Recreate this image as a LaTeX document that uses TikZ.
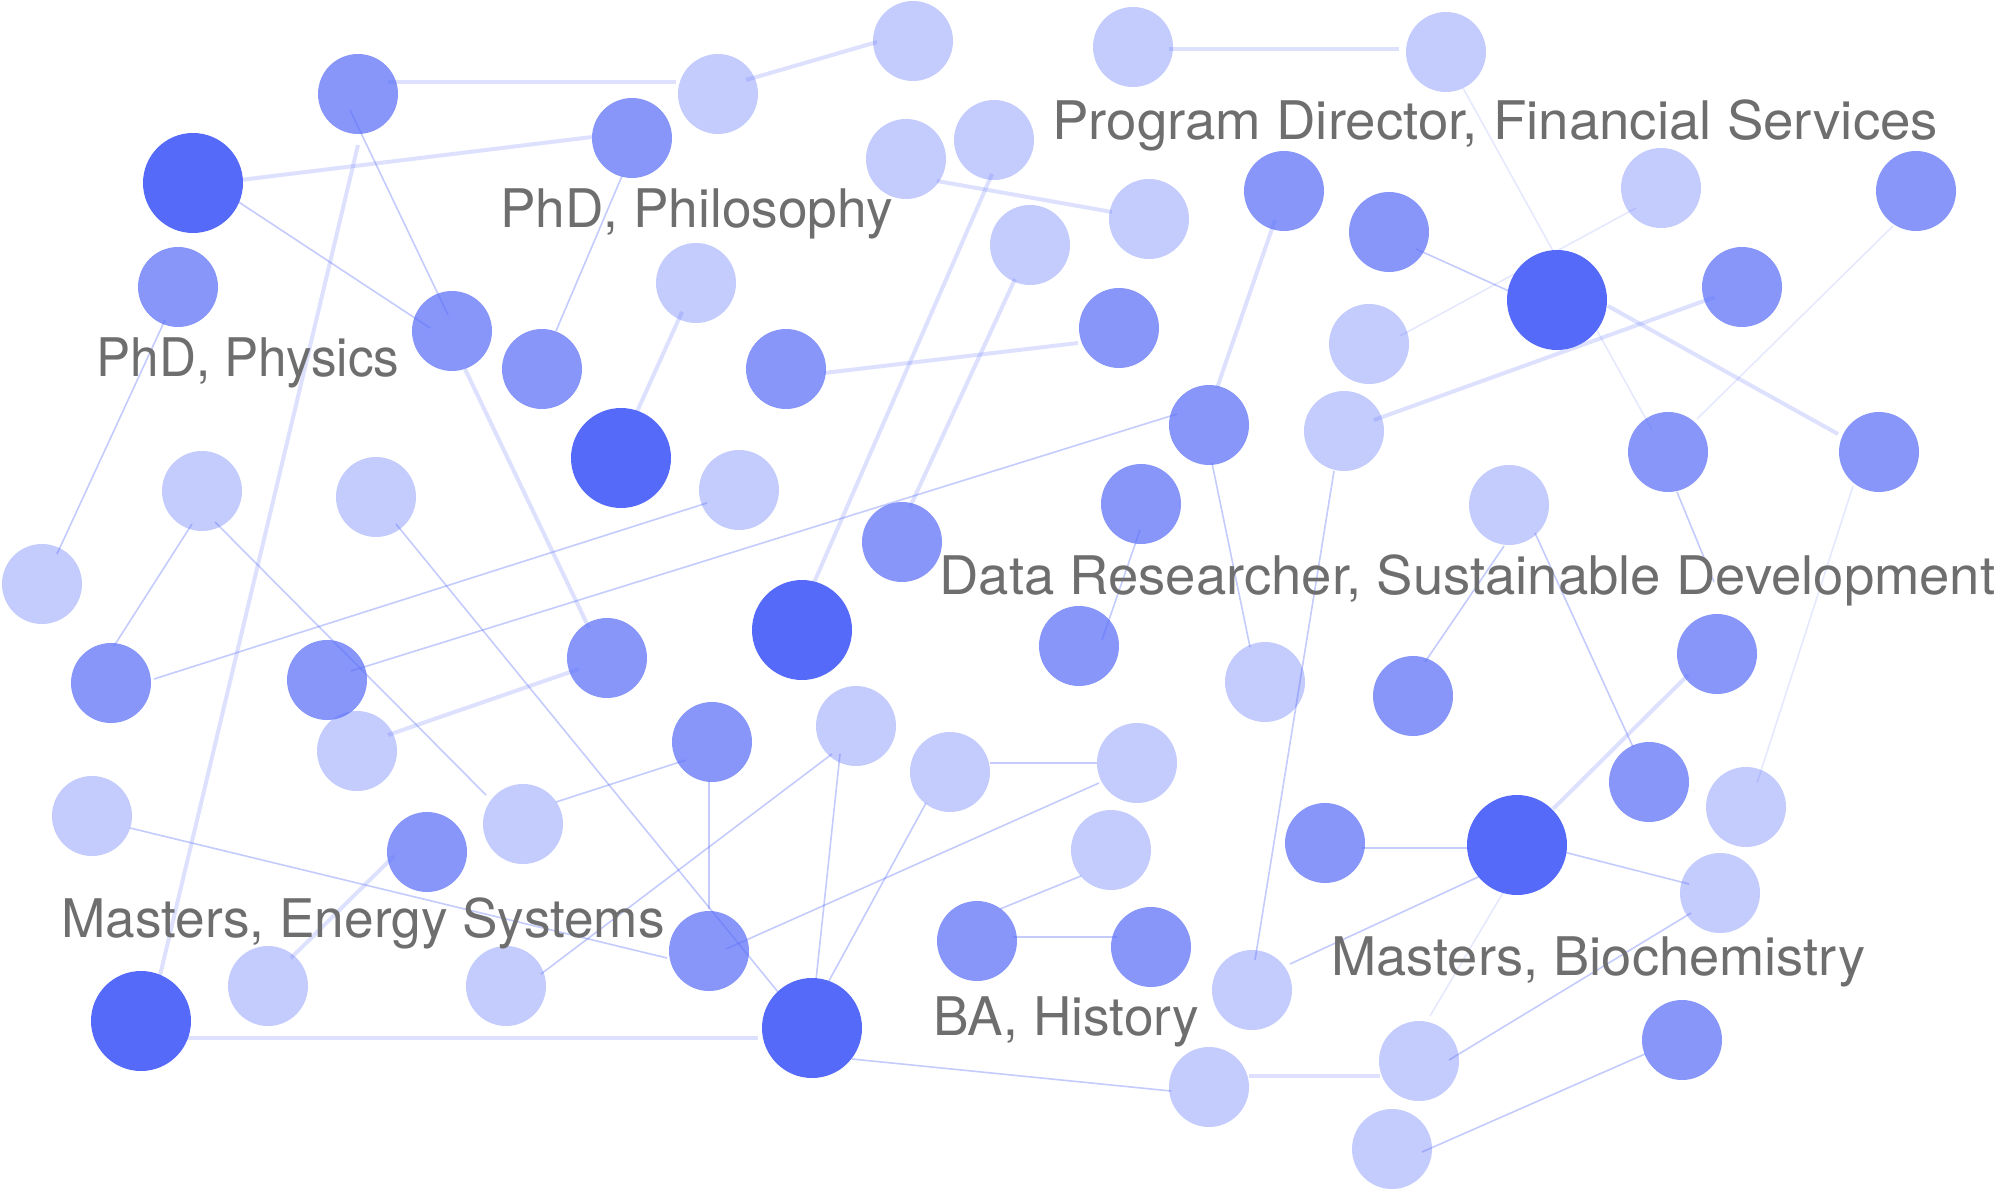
\documentclass[tikz,border=0pt]{standalone}
\usepackage{fontspec}
\setmainfont{TeX Gyre Heros}
\usetikzlibrary{calc}
\definecolor{nodeblue}{RGB}{85,106,248}
\definecolor{labelgray}{RGB}{110,110,110}
\begin{document}
\begin{tikzpicture}[x=0.5pt,y=-0.5pt,
  dot/.style={circle,draw=none,inner sep=0pt,fill=nodeblue},
  big/.style={dot,minimum size=50pt,fill opacity=1},
  mid/.style={dot,minimum size=40pt,fill opacity=0.7},
  pale/.style={dot,minimum size=40pt,fill opacity=0.35},
  thk/.style={draw=nodeblue,draw opacity=0.2,line width=2pt},
  thn/.style={draw=nodeblue,draw opacity=0.35,line width=0.8pt},
  fnt/.style={draw=nodeblue,draw opacity=0.15,line width=0.8pt},
  lbl/.style={anchor=base west,inner sep=0pt,text=labelgray,font=\fontsize{26.6pt}{30pt}\selectfont}]
\useasboundingbox (0,0) rectangle (2012,1192);
% dark nodes
\node[big] (d1) at (193,183) {};
\node[big] (d2) at (621,458) {};
\node[big] (d3) at (802,630) {};
\node[big] (d4) at (1557,300) {};
\node[big] (d5) at (1517,845) {};
\node[big] (d6) at (141,1021) {};
\node[big] (d7) at (812,1028) {};
% medium nodes
\node[mid] (m1) at (358,94) {};
\node[mid] (m2) at (632,138) {};
\node[mid] (m3) at (178,287) {};
\node[mid] (m4) at (452,331) {};
\node[mid] (m5) at (542,369) {};
\node[mid] (m6) at (786,369) {};
\node[mid] (m7) at (1119,328) {};
\node[mid] (m8) at (1284,191) {};
\node[mid] (m9) at (1209,425) {};
\node[mid] (m10) at (1141,504) {};
\node[mid] (m11) at (902,542) {};
\node[mid] (m12) at (111,683) {};
\node[mid] (m13) at (327,680) {};
\node[mid] (m14) at (607,658) {};
\node[mid] (m15) at (427,852) {};
\node[mid] (m16) at (712,742) {};
\node[mid] (m17) at (709,951) {};
\node[mid] (m18) at (1079,646) {};
\node[mid] (m19) at (977,941) {};
\node[mid] (m20) at (1151,947) {};
\node[mid] (m21) at (1389,232) {};
\node[mid] (m22) at (1742,287) {};
\node[mid] (m23) at (1916,191) {};
\node[mid] (m24) at (1668,452) {};
\node[mid] (m25) at (1879,452) {};
\node[mid] (m26) at (1413,696) {};
\node[mid] (m27) at (1717,654) {};
\node[mid] (m28) at (1649,782) {};
\node[mid] (m29) at (1325,843) {};
\node[mid] (m30) at (1682,1040) {};
% light nodes
\node[pale] (l1) at (718,94) {};
\node[pale] (l2) at (913,41) {};
\node[pale] (l3) at (1133,47) {};
\node[pale] (l4) at (906,159) {};
\node[pale] (l5) at (994,140) {};
\node[pale] (l6) at (1149,219) {};
\node[pale] (l7) at (1030,245) {};
\node[pale] (l8) at (696,283) {};
\node[pale] (l9) at (202,491) {};
\node[pale] (l10) at (376,497) {};
\node[pale] (l11) at (739,490) {};
\node[pale] (l12) at (42,584) {};
\node[pale] (l13) at (357,751) {};
\node[pale] (l14) at (92,816) {};
\node[pale] (l15) at (523,824) {};
\node[pale] (l16) at (268,986) {};
\node[pale] (l17) at (506,986) {};
\node[pale] (l18) at (856,726) {};
\node[pale] (l19) at (950,772) {};
\node[pale] (l20) at (1137,763) {};
\node[pale] (l21) at (1111,850) {};
\node[pale] (l22) at (1265,682) {};
\node[pale] (l23) at (1252,990) {};
\node[pale] (l24) at (1209,1087) {};
\node[pale] (l25) at (1446,52) {};
\node[pale] (l26) at (1661,188) {};
\node[pale] (l27) at (1369,344) {};
\node[pale] (l28) at (1344,431) {};
\node[pale] (l29) at (1509,505) {};
\node[pale] (l30) at (1746,807) {};
\node[pale] (l31) at (1720,893) {};
\node[pale] (l32) at (1419,1061) {};
\node[pale] (l33) at (1392,1149) {};
\coordinate (free1) at (1714,582);
% connectors
\draw[thk] ($(m1)+(30,-12)$) -- ($(l1)+(-42,-12)$);
\draw[thk] ($(d1)+(39,-2)$) -- ($(m2)+(-40,-1)$);
\draw[thn] ($(d1)+(32,10)$) -- ($(m4)+(-22,-3)$);
\draw[thn] ($(m1)+(-8,16)$) -- ($(m4)+(-4,-16)$);
\draw[thk] ($(m1)+(0,51)$) -- ($(d6)+(16,-33)$);
\draw[thn] ($(m3)+(-13,33)$) -- ($(l12)+(15,-30)$);
\draw[thk] ($(m4)+(13,38)$) -- ($(m14)+(-18,-30)$);
\draw[thn] ($(m5)+(14,-38)$) -- ($(m2)+(-10,38)$);
\draw[thk] ($(d2)+(10,-33)$) -- ($(l8)+(-14,29)$);
\draw[thn] ($(l9)+(-10,33)$) -- ($(m12)+(3,-37)$);
\draw[thn] ($(l9)+(13,31)$) -- ($(l15)+(-37,-29)$);
\draw[thn] ($(l10)+(20,27)$) -- ($(d7)+(-25,-25)$);
\draw[thn] ($(m12)+(43,-4)$) -- ($(l11)+(-32,13)$);
\draw[thn] ($(m13)+(24,-9)$) -- ($(m9)+(-32,-11)$);
\draw[thk] ($(l13)+(31,-16)$) -- ($(m14)+(-28,11)$);
\draw[thn] ($(l14)+(38,12)$) -- ($(m17)+(-42,7)$);
\draw[thk] ($(l16)+(23,-28)$) -- ($(m15)+(-33,4)$);
\draw[thn] ($(l15)+(33,-22)$) -- ($(m16)+(-26,18)$);
\draw[thn] ($(l17)+(35,-12)$) -- ($(l18)+(-24,28)$);
\draw[thk] ($(d6)+(6,17)$) -- ($(d7)+(-54,10)$);
\draw[thn] ($(m16)+(-3,39)$) -- ($(m17)+(0,-42)$);
\draw[thn] ($(l18)+(-16,28)$) -- ($(d7)+(4,-48)$);
\draw[thn] ($(l19)+(-24,31)$) -- ($(d7)+(0,-16)$);
\draw[thn] ($(l19)+(40,-9)$) -- ($(l20)+(-40,0)$);
\draw[thn] ($(l20)+(-38,20)$) -- ($(m17)+(17,-2)$);
\draw[thn] ($(m19)+(23,-32)$) -- ($(l21)+(-30,26)$);
\draw[thn] ($(m19)+(36,-4)$) -- ($(m20)+(-34,-10)$);
\draw[thn] ($(d7)+(40,31)$) -- ($(l24)+(-38,4)$);
\draw[thk] ($(l24)+(40,-11)$) -- ($(l32)+(-39,15)$);
\draw[thn] ($(l28)+(-10,40)$) -- ($(l23)+(3,-30)$);
\draw[thn] ($(l23)+(38,-26)$) -- ($(d5)+(-28,27)$);
\draw[thn] ($(m9)+(3,38)$) -- ($(l22)+(-15,-35)$);
\draw[thk] ($(m9)+(8,-37)$) -- ($(m8)+(-9,29)$);
\draw[thn] ($(m10)+(-1,26)$) -- ($(m18)+(23,-6)$);
\draw[thk] ($(l4)+(31,22)$) -- ($(l6)+(-37,-7)$);
\draw[thk] ($(l5)+(-2,34)$) -- ($(d3)+(11,-45)$);
\draw[thk] ($(l7)+(-15,34)$) -- ($(m11)+(8,-35)$);
\draw[thk] ($(m6)+(38,4)$) -- ($(m7)+(-41,15)$);
\draw[thk] ($(l1)+(28,-14)$) -- ($(l2)+(-36,1)$);
\draw[thk] ($(l3)+(36,2)$) -- ($(l25)+(-47,-3)$);
\draw[fnt] ($(l25)+(17,36)$) -- ($(m24)+(-16,-22)$);
\draw[thn] ($(m21)+(27,17)$) -- ($(d4)+(-35,-3)$);
\draw[fnt] ($(l27)+(31,-8)$) -- ($(l26)+(-25,20)$);
\draw[thk] ($(l28)+(30,-11)$) -- ($(m22)+(-27,10)$);
\draw[thk] ($(d4)+(51,6)$) -- ($(m25)+(-41,-18)$);
\draw[fnt] ($(m23)+(-23,35)$) -- ($(m24)+(29,-33)$);
\draw[thn] ($(m24)+(9,40)$) -- (free1);
\draw[fnt] ($(m25)+(-26,34)$) -- ($(l30)+(11,-24)$);
\draw[thn] ($(l29)+(-5,41)$) -- ($(m26)+(12,-34)$);
\draw[thn] ($(l29)+(26,28)$) -- ($(m28)+(-16,-35)$);
\draw[thk] ($(m27)+(-29,21)$) -- ($(d5)+(36,-36)$);
\draw[thn] ($(m29)+(37,5)$) -- ($(d5)+(-49,3)$);
\draw[thn] ($(d5)+(39,5)$) -- ($(l31)+(-31,-9)$);
\draw[fnt] ($(d5)+(-10,41)$) -- ($(l32)+(11,-45)$);
\draw[thn] ($(l31)+(-29,20)$) -- ($(l32)+(30,-1)$);
\draw[thn] ($(m30)+(-37,14)$) -- ($(l33)+(30,3)$);
% labels
\node[lbl] (t1) at (96,377) {\scalebox{0.963}[1]{PhD, Physics}};
\node[lbl] (t2) at (500,228) {PhD, Philosophy};
\node[lbl] (t3) at (1052,140) {\scalebox{1.027}[1]{Program Director, Financial Services}};
\node[lbl] (t4) at (939,594) {\scalebox{1.024}[1]{Data Researcher, Sustainable Development}};
\node[lbl] (t5) at (61,937) {Masters, Energy Systems};
\node[lbl] (t6) at (933,1035) {BA, History};
\node[lbl] (t7) at (1331,975) {\scalebox{1.02}[1]{Masters, Biochemistry}};
\end{tikzpicture}
\end{document}
